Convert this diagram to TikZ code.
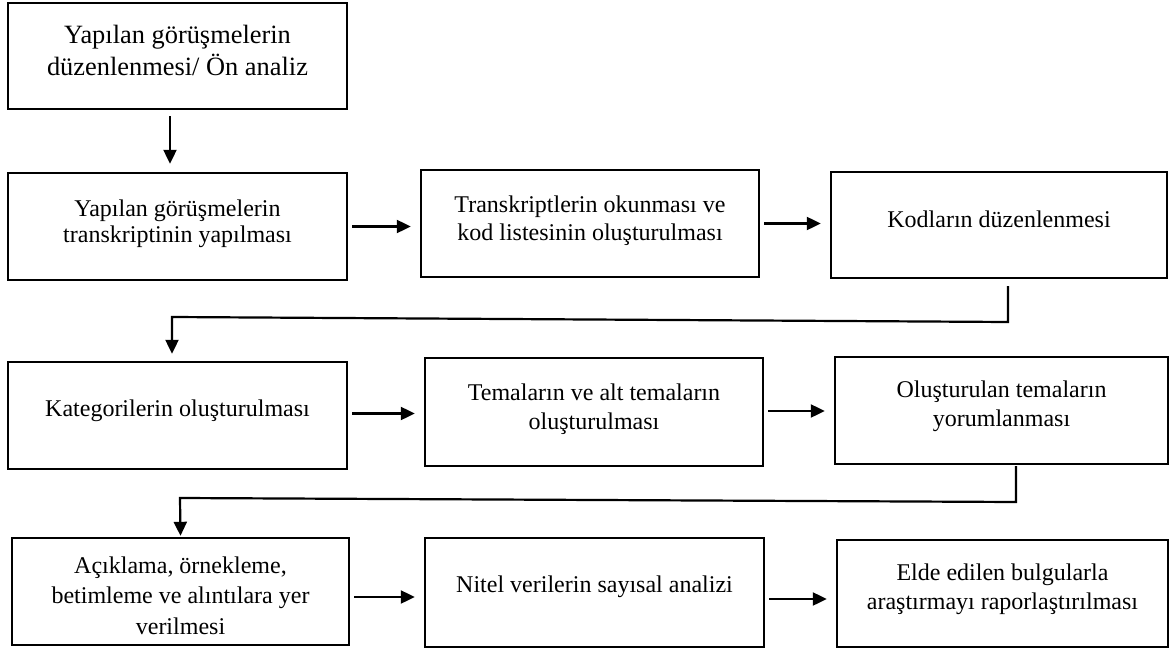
\documentclass[tikz,border=0pt]{standalone}
\usepackage{fontspec}
\setmainfont{Liberation Serif}
\usetikzlibrary{arrows.meta,calc}
\begin{document}
\begin{tikzpicture}[x=1pt,y=-1pt,
  box/.style 2 args={draw=black,line width=2.4pt,fill=white,minimum width=#1,minimum height=#2,inner sep=0pt},
  txt/.style={font=\fontsize{24}{28.5}\selectfont,align=center,inner sep=0pt,text=black},
  toptxt/.style={font=\fontsize{26.4}{32}\selectfont,align=center,inner sep=0pt,text=black},
  arr/.style={draw=black,line width=2.2pt,-{Triangle[width=13pt,length=14pt]}}]
\useasboundingbox (0,0) rectangle (1170,650);
% boxes
\node[box={339pt}{106pt}] (T) at (177.5,56) {};
\node[box={339pt}{107pt}] (A) at (177.5,226.5) {};
\node[box={338pt}{107pt}] (B) at (590,223.5) {};
\node[box={336pt}{106pt}] (C) at (999,225) {};
\node[box={339pt}{107pt}] (D) at (177.5,415.5) {};
\node[box={338pt}{108pt}] (E) at (594,412) {};
\node[box={333pt}{107pt}] (F) at (1001.5,410.5) {};
\node[box={337pt}{107pt}] (G) at (180.5,591.5) {};
\node[box={339pt}{109pt}] (H) at (594.5,592.5) {};
\node[box={331pt}{107pt}] (I) at (1002.5,593.5) {};
% texts
\node[toptxt] (Tt) at ([yshift=6pt]T.center) {Yapılan görüşmelerin\\düzenlenmesi/ Ön analiz};
\node[txt,font=\fontsize{24}{26}\selectfont] (At) at ([yshift=3pt]A.center) {Yapılan görüşmelerin\\transkriptinin yapılması};
\node[txt] (Bt) at ([yshift=3pt]B.center) {Transkriptlerin okunması ve\\kod listesinin oluşturulması};
\node[txt] (Ct) at ([yshift=6pt]C.center) {Kodların düzenlenmesi};
\node[txt] (Dt) at ([yshift=5pt]D.center) {Kategorilerin oluşturulması};
\node[txt] (Et) at ([yshift=3pt]E.center) {Temaların ve alt temaların\\oluşturulması};
\node[txt] (Ft) at ([yshift=4pt]F.center) {Oluşturulan temaların\\yorumlanması};
\node[txt,font=\fontsize{24}{30.5}\selectfont] (Gt) at ([yshift=-4pt]G.center) {Açıklama, örnekleme,\\betimleme ve alıntılara yer\\verilmesi};
\node[txt] (Ht) at ([yshift=6pt]H.center) {Nitel verilerin sayısal analizi};
\node[txt] (It) at ([yshift=4pt]I.center) {Elde edilen bulgularla\\araştırmayı raporlaştırılması};
% bend points
\coordinate (cd1) at (1008,322);
\coordinate (cd2) at (172,317);
\coordinate (fg1) at (1016,502);
\coordinate (fg2) at (180,498);
% connectors
\draw[arr] ([xshift=-7.5pt,yshift=-6pt]T.south) -- ([xshift=-7.5pt,yshift=8pt]A.north);
\draw[arr] ([xshift=4pt]A.east) -- ($(A.east -| B.west)+(-9pt,0pt)$);
\draw[arr] ([xshift=4pt]B.east) -- ($(B.east -| C.west)+(-9pt,0pt)$);
\draw[arr] ([xshift=9pt,yshift=-7pt]C.south) -- (cd1) -- (cd2) -- ([xshift=-5.5pt,yshift=7pt]D.north);
\draw[arr] ([xshift=4pt,yshift=2pt]D.east) -- ($(D.east -| E.west)+(-9pt,2pt)$);
\draw[arr] ([xshift=4pt,yshift=1pt]E.east) -- ($(E.east -| F.west)+(-9pt,1pt)$);
\draw[arr] ([xshift=14.5pt,yshift=-1pt]F.south) -- (fg1) -- (fg2) -- ([yshift=1pt]G.north);
\draw[arr] ([xshift=4pt,yshift=-5.5pt]G.east) -- ($(G.east -| H.west)+(-9pt,-5.5pt)$);
\draw[arr] ([xshift=4pt,yshift=-6.5pt]H.east) -- ($(H.east -| I.west)+(-9pt,-6.5pt)$);
\end{tikzpicture}
\end{document}
